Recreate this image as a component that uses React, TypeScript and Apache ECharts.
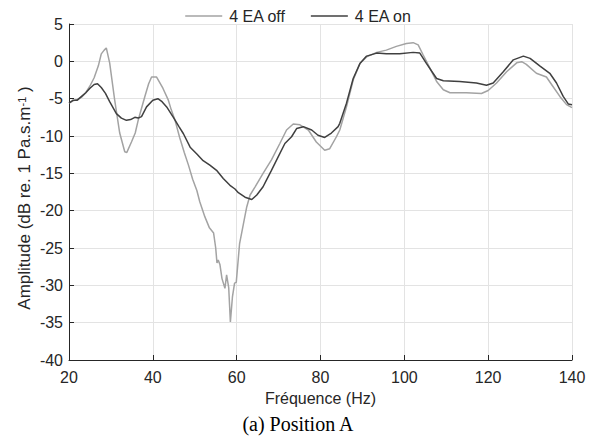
import React, { useEffect, useRef } from "react";
import * as echarts from "echarts";

const seriesNames = ["4 EA off", "4 EA on"];

const freqOff = [20, 21, 22, 23, 24, 25, 26, 27, 27.7, 28.4, 28.9, 29.7, 30.9, 32.1, 33.3, 33.8, 34.9, 35.8, 36.5, 38.1, 39, 39.7, 40.9, 42.4, 43.7, 44.4, 45.3, 46.4, 47.5, 48.5, 49.5, 50.5, 51.2, 52.4, 53.5, 54.5, 55, 55.3, 55.6, 56, 56.5, 57.2, 57.6, 58.1, 58.5, 59, 59.5, 59.9, 60.7, 61.6, 62.4, 63.2, 64.4, 66.3, 68.3, 70.3, 71.9, 73.5, 75.1, 77.1, 79, 81, 82.2, 83.8, 84.6, 86.2, 87.8, 89.4, 91, 93.4, 95.7, 98.1, 100.5, 102.1, 103.3, 104.5, 106.1, 107.7, 109.3, 110.9, 114.8, 118.4, 120, 122, 124.4, 126.8, 128, 129.1, 131.5, 133.9, 135.5, 137.1, 138.7, 140];
const ampOff = [-5.6, -5.3, -5.1, -4.8, -4.2, -3.3, -2.2, -0.6, 1.0, 1.5, 1.8, -0.2, -5.2, -9.6, -12.1, -12.2, -10.8, -9.6, -7.9, -4.7, -3.0, -2.1, -2.1, -3.6, -5.2, -6.5, -7.9, -10.2, -12.2, -13.9, -15.8, -17.3, -18.8, -20.8, -22.3, -23.0, -25.0, -27.0, -26.6, -27.2, -29.1, -30.4, -28.6, -30.3, -34.9, -31.5, -29.7, -29.6, -24.4, -21.8, -19.5, -17.9, -16.8, -15.0, -13.2, -11.0, -9.2, -8.4, -8.5, -9.2, -10.8, -11.9, -11.7, -10.1, -9.2, -6.1, -2.5, -0.3, 0.6, 1.2, 1.5, 2.0, 2.4, 2.5, 2.2, 0.85, -0.9, -2.7, -3.8, -4.2, -4.2, -4.3, -3.9, -2.9, -1.4, -0.2, -0.05, -0.4, -1.6, -2.1, -3.4, -4.7, -5.8, -6.2];

const freqOn = [20, 21, 22, 23, 24, 25, 26, 26.8, 27.7, 28.7, 29.7, 31.3, 32.5, 33.7, 34.7, 35.7, 36.5, 37.3, 38.5, 40, 41.2, 42.2, 43.3, 44.9, 46.2, 47.3, 48.9, 50.5, 52, 53.6, 55.2, 56.8, 58.4, 59.6, 60.4, 62, 63.6, 64.8, 66.3, 67.1, 68.3, 69.9, 71.5, 73.1, 74.3, 75.9, 77.9, 79.4, 81, 82.6, 84.2, 84.6, 86.2, 87.8, 89.4, 91, 93.4, 95.7, 98.9, 102.1, 103.7, 105.3, 107.7, 109.3, 113.2, 117.2, 119.6, 121.2, 123.6, 126, 128.4, 130, 132.3, 134.7, 136.3, 137.9, 139.1, 140];
const ampOn = [-5.6, -5.2, -5.2, -4.7, -4.2, -3.6, -3.1, -3.0, -3.5, -4.3, -5.4, -7.0, -7.6, -7.9, -7.8, -7.5, -7.6, -7.4, -6.1, -5.2, -5.0, -5.4, -6.1, -7.5, -8.7, -9.7, -11.5, -12.4, -13.3, -13.9, -14.6, -15.7, -16.6, -17.1, -17.6, -18.2, -18.5, -17.9, -16.8, -15.9, -14.6, -12.8, -11.0, -10.1, -9.0, -8.75, -9.2, -9.9, -10.2, -9.6, -8.75, -8.3, -5.6, -2.3, -0.3, 0.7, 1.1, 1.0, 1.0, 1.2, 1.1, -0.3, -2.3, -2.6, -2.7, -2.9, -3.2, -2.9, -1.4, 0.2, 0.7, 0.4, -0.6, -1.6, -2.9, -4.7, -5.7, -5.8];

const xTicks = { min: 20, max: 140, interval: 20 };
const yTicks = { min: -40, max: 5, interval: 5 };

const SANS = "'Liberation Sans', Arial, Helvetica, sans-serif";
const TXT = "#262626";
const LEGEND_ICON = "path://M0,0 L37,0 L37,1.5 L0,1.5 Z";

export default function App() {
  const ref = useRef<HTMLDivElement>(null);
  useEffect(() => {
    if (!ref.current) return;
    const chart = echarts.init(ref.current, null, { renderer: "svg" });
    const offData = freqOff.map((f, i) => [f, ampOff[i]]);
    const onData = freqOn.map((f, i) => [f, ampOn[i]]);
    chart.setOption({
      animation: false,
      backgroundColor: "#ffffff",
      textStyle: { fontFamily: SANS },
      legend: {
        data: seriesNames.map((n) => ({ name: n, icon: LEGEND_ICON })),
        top: 3,
        left: "center",
        itemWidth: 37,
        itemHeight: 2,
        itemGap: 25,
        textStyle: { fontSize: 16, color: TXT, fontFamily: SANS, padding: [0, 0, 0, 2] },
      },
      grid: { left: 69, right: 25, top: 24, bottom: 85 },
      xAxis: {
        type: "value",
        min: xTicks.min,
        max: xTicks.max,
        interval: xTicks.interval,
        name: "Fréquence (Hz)",
        nameLocation: "middle",
        nameGap: 30,
        nameTextStyle: { fontSize: 16, color: TXT, fontFamily: SANS },
        axisLine: { show: true, onZero: false, lineStyle: { color: TXT, width: 1 } },
        axisTick: { show: true, inside: true, length: 5, lineStyle: { color: TXT } },
        axisLabel: { fontSize: 16, color: TXT, margin: 9, fontFamily: SANS },
        splitLine: { show: true, lineStyle: { color: "#e3e3e3", width: 1 } },
      },
      yAxis: {
        type: "value",
        min: yTicks.min,
        max: yTicks.max,
        interval: yTicks.interval,
        name: "Amplitude (dB re. 1 Pa.s.m{sup|-1} )",
        nameLocation: "middle",
        nameGap: 36,
        nameMoveOverlap: false,
        nameRotate: 90,
        nameTextStyle: {
          fontSize: 17,
          color: TXT,
          fontFamily: SANS,
          padding: [0, 12, 0, 0],
          rich: {
            sup: { fontSize: 11, color: TXT, fontFamily: SANS, verticalAlign: "top", lineHeight: 11 },
          },
        },
        axisLine: { show: true, lineStyle: { color: TXT, width: 1 } },
        axisTick: { show: true, inside: true, length: 5, lineStyle: { color: TXT } },
        axisLabel: { fontSize: 16, color: TXT, margin: 6, fontFamily: SANS },
        splitLine: { show: true, lineStyle: { color: "#e3e3e3", width: 1 } },
      },
      series: [
        {
          name: seriesNames[0],
          type: "line",
          data: offData,
          symbol: "none",
          showSymbol: false,
          smooth: false,
          lineStyle: { color: "#a3a3a3", width: 1.5 },
          itemStyle: { color: "#a3a3a3" },
          z: 2,
        },
        {
          name: seriesNames[1],
          type: "line",
          data: onData,
          symbol: "none",
          showSymbol: false,
          smooth: false,
          lineStyle: { color: "#404040", width: 1.5 },
          itemStyle: { color: "#404040" },
          z: 3,
        },
      ],
      graphic: [
        {
          type: "text",
          left: "center",
          top: 414,
          style: {
            text: "(a) Position A",
            fontSize: 20,
            fontFamily: "'Liberation Serif', 'Times New Roman', serif",
            fill: "#000000",
          },
        },
      ],
    });
    return () => chart.dispose();
  }, []);
  return <div ref={ref} style={{ width: 597, height: 445, position: "absolute", left: 0, top: 0 }} />;
}
